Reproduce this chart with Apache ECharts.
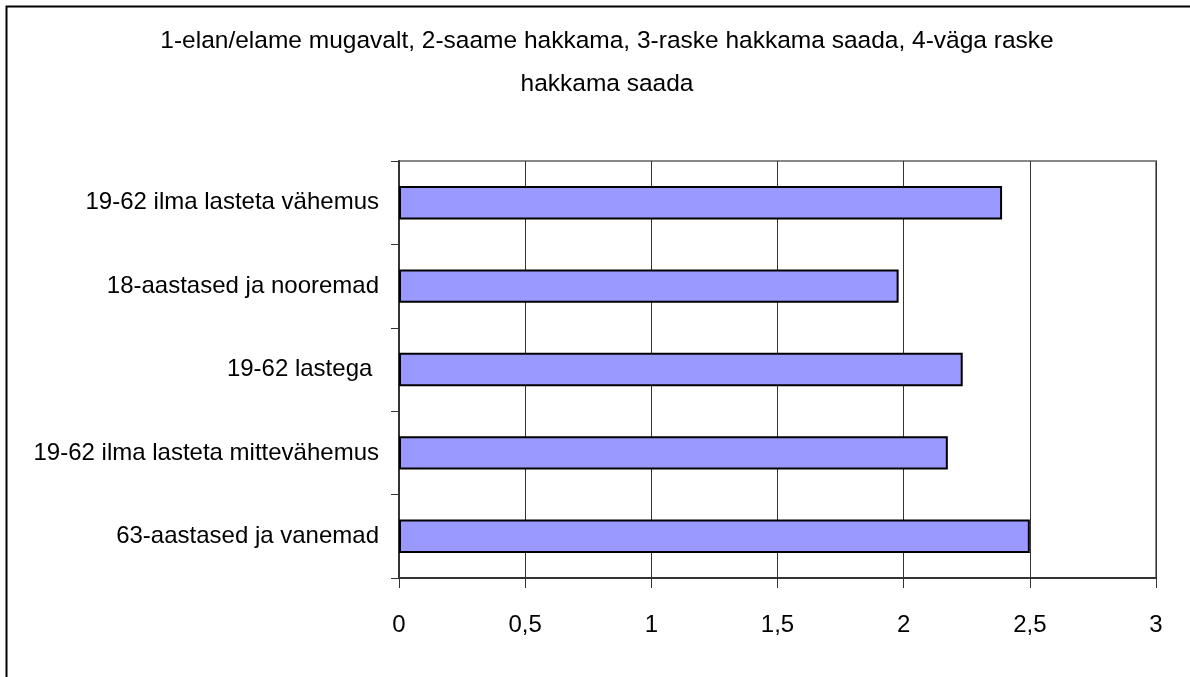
<!DOCTYPE html>
<html><head><meta charset="utf-8">
<script src="https://cdn.jsdelivr.net/npm/echarts@6/dist/echarts.min.js"></script>
<style>html,body{margin:0;padding:0;background:#fff}#c{width:1190px;height:677px}</style>
</head><body><div id="c"></div>
<script>
var titleText = '1-elan/elame mugavalt, 2-saame hakkama, 3-raske hakkama saada, 4-väga raske\nhakkama saada';
var categories = ['63-aastased ja vanemad', '19-62 ilma lasteta mittevähemus', '19-62 lastega ', '18-aastased ja nooremad', '19-62 ilma lasteta vähemus'];
var values = [2.50, 2.175, 2.234, 1.98, 2.39];
var xTicks = ['0', '0,5', '1', '1,5', '2', '2,5', '3'];

var FONT = '"Liberation Sans", Arial, sans-serif';
var chart = echarts.init(document.getElementById('c'), null, {renderer: 'canvas'});
chart.setOption({
  animation: false,
  backgroundColor: '#fff',
  title: {
    text: titleText, left: 602, top: 15, textAlign: 'center',
    textStyle: {fontFamily: FONT, fontSize: 24.5, fontWeight: 'normal', color: '#000', lineHeight: 43}
  },
  graphic: [{type: 'rect', shape: {x: 6.5, y: 6.5, width: 1300, height: 800}, style: {fill: 'none', stroke: '#000', lineWidth: 2}, silent: true}],
  grid: {left: 399, top: 161, width: 757, height: 417, show: true, borderColor: '#888', borderWidth: 2, backgroundColor: 'transparent'},
  xAxis: {
    type: 'value', min: 0, max: 3, interval: 0.5,
    axisLine: {show: true, lineStyle: {color: '#333', width: 2}},
    axisTick: {show: true, length: 10, lineStyle: {color: '#333'}},
    splitLine: {show: true, lineStyle: {color: '#333', width: 1}},
    axisLabel: {fontFamily: FONT, fontSize: 24, color: '#000', margin: 35,
      formatter: function (v) { return xTicks[Math.round(v * 2)]; }}
  },
  yAxis: {
    type: 'category', data: categories,
    axisLine: {show: true, lineStyle: {color: '#333', width: 2}},
    axisTick: {show: true, length: 8, lineStyle: {color: '#333'}},
    axisLabel: {fontFamily: FONT, fontSize: 24, color: '#000', margin: 20}
  },
  series: [{
    type: 'bar', data: values, barCategoryGap: '60%',
    itemStyle: {color: '#9999ff', borderColor: '#000', borderWidth: 2}
  }]
});
</script></body></html>
